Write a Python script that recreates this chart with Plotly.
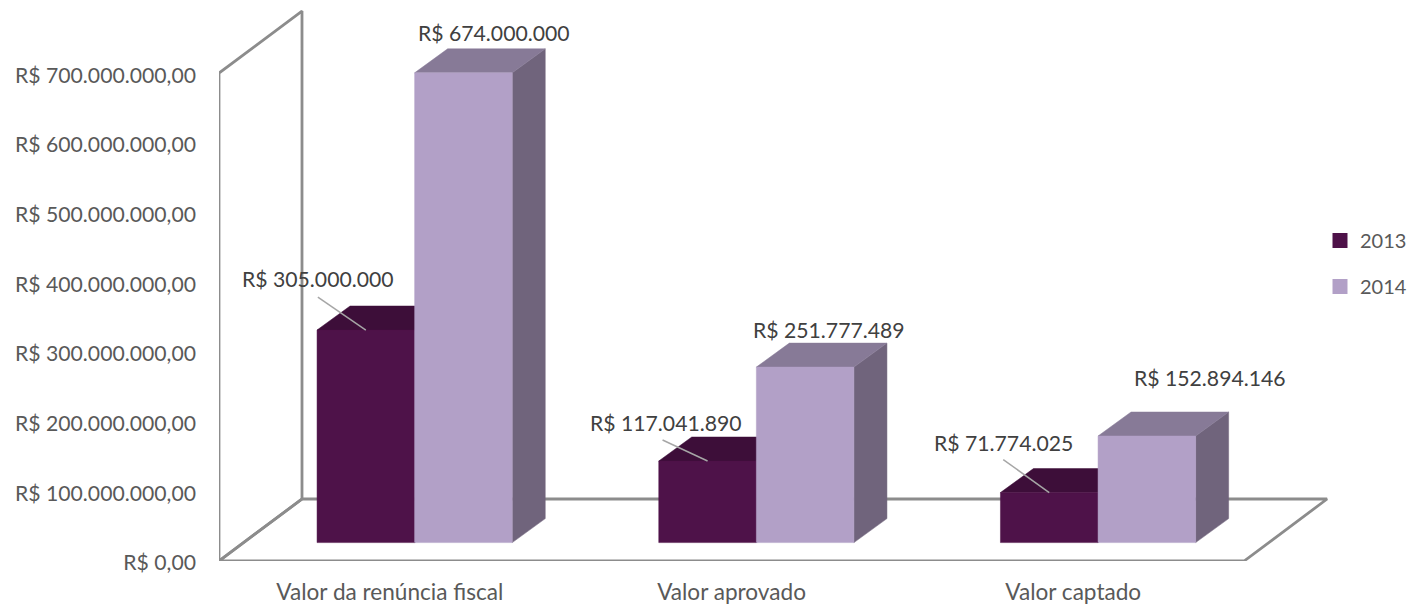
"""3D-look clustered bars (renúncia fiscal 2013 x 2014), drawn as filled polygons on real axes."""

import plotly.graph_objects as go

categories = ["Valor da renúncia fiscal", "Valor aprovado", "Valor captado"]
values_2013 = [305000000, 117041890, 71774025]
values_2014 = [674000000, 251777489, 152894146]
labels_2013 = ["R$ 305.000.000", "R$ 117.041.890", "R$ 71.774.025"]
labels_2014 = ["R$ 674.000.000", "R$ 251.777.489", "R$ 152.894.146"]
y_ticks = [0, 100e6, 200e6, 300e6, 400e6, 500e6, 600e6, 700e6]
y_tick_labels = [
    "R$ 0,00", "R$ 100.000.000,00", "R$ 200.000.000,00", "R$ 300.000.000,00",
    "R$ 400.000.000,00", "R$ 500.000.000,00", "R$ 600.000.000,00", "R$ 700.000.000,00",
]
# label offsets in pixels from the top of each bar
offsets_2013 = [(-48, -51), (-42, -38), (-46, -50)]
offsets_2014 = [(31, -40), (24, -37), (63, -58)]
# where each 2013 leader line starts, same reference
leader_starts = [(-48, 33), (-45, 21), (-46, 33)]

FONT = "Lato, Carlito, sans-serif"
FONT_SIZE = 21.2
TEXT = "#595959"
LABEL = "#404040"
WALL = "#8C8C8C"
COLORS = {
    "2013": dict(front="#4E1249", top="#3D0E39", side="#3D0E39"),
    "2014": dict(front="#B2A0C7", top="#877A97", side="#70647C"),
}

# pixel scales of the frame
PX_PER_CAT = 341.7
PX_PER_VAL = 0.697e-6
LEFT, RIGHT, TOP, BOTTOM = 219, 1330, 5, 561

px_x = lambda p: p / PX_PER_CAT
px_y = lambda p: p / PX_PER_VAL

WALL_DX, WALL_DY = px_x(83), px_y(62)
BAR_DX, BAR_DY = px_x(33), px_y(24)
BAR_W = px_x(97.6)
GROUP_X = px_x(24.8)
BASE = px_y(18.4)
X0 = -0.5
Y_MAX = px_y(BOTTOM - TOP)
X_MAX = X0 + px_x(RIGHT - LEFT)

fig = go.Figure()


def poly(xs, ys, color):
    fig.add_trace(go.Scatter(
        x=xs + xs[:1], y=ys + ys[:1], mode="lines", fill="toself", fillcolor=color,
        line=dict(color=color, width=0.5), hoverinfo="skip", showlegend=False,
    ))


def frame(xs, ys):
    fig.add_trace(go.Scatter(
        x=xs, y=ys, mode="lines", line=dict(color=WALL, width=2.8),
        hoverinfo="skip", showlegend=False, cliponaxis=False,
    ))


# walls and floor
x_end = X0 + len(categories)
frame([X0, X0, X0 + WALL_DX, X0 + WALL_DX, X0],
      [0, y_ticks[-1], y_ticks[-1] + WALL_DY, WALL_DY, 0])
frame([X0, x_end, x_end + WALL_DX, X0 + WALL_DX, X0],
      [0, 0, WALL_DY, WALL_DY, 0])

# bars: 2013 first so the 2014 bar covers its right side
for i in range(len(categories)):
    for name, vals, sign in (("2013", values_2013, -1), ("2014", values_2014, 0)):
        c = COLORS[name]
        x0 = i + GROUP_X + sign * BAR_W
        x1 = x0 + BAR_W
        y0 = BASE
        y1 = BASE + vals[i]
        poly([x1, x1 + BAR_DX, x1 + BAR_DX, x1], [y0, y0 + BAR_DY, y1 + BAR_DY, y1], c["side"])
        poly([x0, x1, x1 + BAR_DX, x0 + BAR_DX], [y1, y1, y1 + BAR_DY, y1 + BAR_DY], c["top"])
        poly([x0, x1, x1, x0], [y0, y0, y1, y1], c["front"])

# legend entries
for name in COLORS:
    fig.add_trace(go.Scatter(
        x=[None], y=[None], mode="markers", name=name, legendgroup=name,
        marker=dict(symbol="square", size=15, color=COLORS[name]["front"]),
    ))

# data labels and 2013 leader lines
for i in range(len(categories)):
    x13 = i + GROUP_X - BAR_W / 2
    x14 = i + GROUP_X + BAR_W / 2
    top13 = BASE + values_2013[i]
    top14 = BASE + values_2014[i]
    fig.add_trace(go.Scatter(
        x=[x13 + px_x(leader_starts[i][0]), x13],
        y=[top13 + px_y(leader_starts[i][1]), top13],
        mode="lines", line=dict(color="#A6A6A6", width=1.5),
        hoverinfo="skip", showlegend=False,
    ))
    fig.add_annotation(
        x=x13, y=top13, text=labels_2013[i], showarrow=False,
        xshift=offsets_2013[i][0], yshift=-offsets_2013[i][1],
    )
    fig.add_annotation(
        x=x14, y=top14, text=labels_2014[i], showarrow=False,
        xshift=offsets_2014[i][0], yshift=-offsets_2014[i][1],
    )
fig.update_annotations(font=dict(family=FONT, size=FONT_SIZE, color=LABEL))

fig.update_layout(
    width=1408,
    height=604,
    margin=dict(l=LEFT, r=1408 - RIGHT, t=TOP, b=604 - BOTTOM, autoexpand=False),
    paper_bgcolor="white",
    plot_bgcolor="white",
    font=dict(family=FONT, size=FONT_SIZE, color=TEXT),
    legend=dict(
        x=0.991, y=0.6115, xanchor="left", yanchor="top", tracegroupgap=17,
        font=dict(family=FONT, size=20, color=TEXT), bgcolor="rgba(0,0,0,0)",
    ),
)
fig.update_xaxes(
    range=[X0, X_MAX], tickvals=list(range(len(categories))), ticktext=categories,
    tickfont=dict(size=22.6), showgrid=False, zeroline=False, showline=False,
    ticks="", ticklabelstandoff=15,
)
fig.update_yaxes(
    range=[0, Y_MAX], tickvals=y_ticks, ticktext=y_tick_labels,
    showgrid=False, zeroline=False, showline=False, ticks="",
    ticklabelstandoff=22, ticklabelshift=2,
)

fig.write_html(
    "out.html",
    config=dict(displayModeBar=False),
    post_script="document.body.style.margin='0';",
)
